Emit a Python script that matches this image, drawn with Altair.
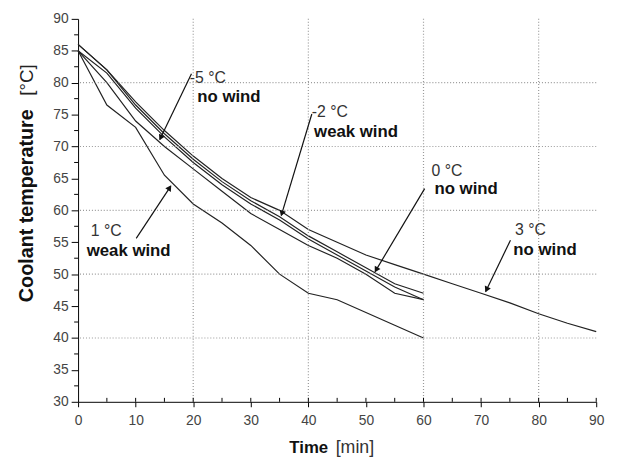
import math
import altair as alt
import pandas as pd

# ---------------- data ----------------
time_60 = [0, 5, 10, 15, 20, 25, 30, 35, 40, 45, 50, 55, 60]
time_90 = [0, 5, 10, 15, 20, 25, 30, 35, 40, 45, 50, 55, 60, 65, 70, 75, 80, 85, 90]

temp_m5_nowind = [86, 82, 76.5, 72, 68, 64.5, 61.5, 59, 56, 53.5, 51, 48.5, 47]
temp_m2_weak = [85, 81.5, 76, 71.5, 67.5, 64, 61, 58.5, 55.5, 53, 50.5, 48, 46]
temp_0_nowind = [85, 80, 74, 70, 66.5, 63, 59.5, 57, 54.5, 52.5, 50, 47, 46]
temp_1_weak = [85, 76.5, 73, 65.5, 61, 58, 54.5, 50, 47, 46, 44, 42, 40]
temp_3_nowind = [86, 82, 77, 72.5, 68.5, 65, 62, 60, 57, 55, 53, 51.5, 50,
                 48.5, 47, 45.5, 43.8, 42.3, 41]

x_ticks = [0, 10, 20, 30, 40, 50, 60, 70, 80, 90]
y_ticks = [30, 35, 40, 45, 50, 55, 60, 65, 70, 75, 80, 85, 90]
x_minor = [5, 15, 25, 35, 45, 55, 65, 75, 85]
y_minor = [32.5, 37.5, 42.5, 47.5, 52.5, 57.5, 62.5, 67.5, 72.5, 77.5, 82.5, 87.5]
x_grid = [20, 40, 60, 80]
y_grid = [40, 50, 60, 70, 80]

# annotation labels: temperature line, wind line
label_temp = ["-5 °C", "-2 °C", "0 °C", "3 °C", "1 °C"]
label_wind = ["no wind", "weak wind", "no wind", "no wind", "weak wind"]
temp_lbl_t = [19.4, 40.6, 61.4, 75.9, 2.2]
temp_lbl_T = [80.8, 75.4, 66.1, 56.9, 56.7]
wind_lbl_t = [20.7, 41.0, 61.9, 75.6, 1.5]
wind_lbl_T = [77.7, 72.3, 63.4, 53.8, 53.6]

# arrows: start (t, T) -> tip (t, T)
arrow_t0 = [19.7, 40.6, 60.2, 75.1, 10.1]
arrow_T0 = [81.4, 75.1, 63.4, 55.3, 55.6]
arrow_t1 = [14.2, 35.3, 51.6, 70.8, 16.1]
arrow_T1 = [71.1, 59.2, 50.4, 47.3, 63.8]

# ---------------- layout ----------------
W, H = 525, 388
X_DOM = [0, 90]
Y_DOM = [30, 90]
ppm = W / (X_DOM[1] - X_DOM[0])
ppd = H / (Y_DOM[1] - Y_DOM[0])

rows = []
for name, ts, vals in [("-5", time_60, temp_m5_nowind), ("-2", time_60, temp_m2_weak),
                       ("0", time_60, temp_0_nowind), ("1", time_60, temp_1_weak),
                       ("3", time_90, temp_3_nowind)]:
    for t, v in zip(ts, vals):
        rows.append({"series": name, "t": t, "T": v})
curves = pd.DataFrame(rows)

xs = alt.Scale(domain=X_DOM, nice=False, zero=False)
ys = alt.Scale(domain=Y_DOM, nice=False, zero=False)

x_axis = alt.Axis(values=x_ticks, grid=False, tickSize=5, tickColor="black",
                  domainColor="black", labelFont="Liberation Sans", labelFontSize=14,
                  labelColor="#444", labelPadding=7, title=None, format="d",
                  labelOverlap=False, labelFlush=False)
y_axis = alt.Axis(values=y_ticks, grid=False, tickSize=7, tickColor="black",
                  domainColor="black", labelFont="Liberation Sans", labelFontSize=14,
                  labelColor="#444", labelPadding=3, title=None, format="d",
                  labelOverlap=False, labelFlush=False)


def X(field):
    return alt.X(field, scale=xs, axis=x_axis)


def Y(field):
    return alt.Y(field, scale=ys, axis=y_axis)


grid_x = alt.Chart(pd.DataFrame({"gx": x_grid})).mark_rule(
    color="#999", strokeDash=[1, 2], strokeWidth=1.2).encode(x=X("gx:Q"))
grid_y = alt.Chart(pd.DataFrame({"gy": y_grid})).mark_rule(
    color="#999", strokeDash=[1, 2], strokeWidth=1.2).encode(y=Y("gy:Q"))

minor_y = alt.Chart(pd.DataFrame({"my": y_minor})).mark_rule(color="black").encode(
    y=Y("my:Q"), x=alt.value(-4), x2=alt.value(0))
minor_x = alt.Chart(pd.DataFrame({"mx": x_minor + x_ticks[1:]})).mark_rule(color="black").encode(
    x=X("mx:Q"), y=alt.value(H - 4), y2=alt.value(H))

lines = alt.Chart(curves).mark_line(color="#222", strokeWidth=1.2).encode(
    x=X("t:Q"), y=Y("T:Q"), detail="series:N", order="t:Q")

arrows = pd.DataFrame({"t0": arrow_t0, "T0": arrow_T0, "t1": arrow_t1, "T1": arrow_T1})
arrow_lines = alt.Chart(arrows).mark_rule(color="#111", strokeWidth=1.2).encode(
    x=X("t0:Q"), y=Y("T0:Q"), x2="t1:Q", y2="T1:Q")

heads = []
for t0, T0, t1, T1 in zip(arrow_t0, arrow_T0, arrow_t1, arrow_T1):
    dx = (t1 - t0) * ppm
    dy = -(T1 - T0) * ppd
    L = math.hypot(dx, dy)
    ux, uy = dx / L, dy / L
    ang = math.degrees(math.atan2(ux, -uy)) % 360
    heads.append({"t": t1 - ux * 3 / ppm, "T": T1 + uy * 3 / ppd, "ang": ang})
arrow_heads = alt.Chart(pd.DataFrame(heads)).mark_point(
    shape="triangle", filled=True, color="#111", size=45, opacity=1).encode(
    x=X("t:Q"), y=Y("T:Q"), angle=alt.Angle("ang:Q", scale=None))

txt_temp = alt.Chart(pd.DataFrame({"t": temp_lbl_t, "T": temp_lbl_T, "s": label_temp})).mark_text(
    align="left", baseline="middle", font="Liberation Sans", fontSize=16, color="#333").encode(
    x=X("t:Q"), y=Y("T:Q"), text="s:N")
txt_wind = alt.Chart(pd.DataFrame({"t": wind_lbl_t, "T": wind_lbl_T, "s": label_wind})).mark_text(
    align="left", baseline="middle", font="Liberation Sans", fontSize=17, fontWeight="bold",
    color="#111").encode(
    x=X("t:Q"), y=Y("T:Q"), text="s:N")

title_src = pd.DataFrame({"k": [0]})
y_title_a = alt.Chart(title_src).mark_text(
    text="Coolant temperature", angle=270, align="left", baseline="middle",
    font="Liberation Sans", fontSize=20, fontWeight="bold", color="#111").encode(
    x=alt.value(-52), y=alt.value(287))
y_title_b = alt.Chart(title_src).mark_text(
    text="[°C]", angle=270, align="right", baseline="middle",
    font="Liberation Sans", fontSize=19, color="#222").encode(
    x=alt.value(-52), y=alt.value(46))
x_title_a = alt.Chart(title_src).mark_text(
    text="Time", align="left", baseline="middle",
    font="Liberation Sans", fontSize=17, fontWeight="bold", color="#111").encode(
    x=alt.value(214), y=alt.value(435))
x_title_b = alt.Chart(title_src).mark_text(
    text="[min]", align="left", baseline="middle",
    font="Liberation Sans", fontSize=18, color="#333").encode(
    x=alt.value(261), y=alt.value(435))

chart = alt.layer(
    lines, grid_x, grid_y, minor_y, minor_x, arrow_lines, arrow_heads,
    txt_temp, txt_wind, y_title_a, y_title_b, x_title_a, x_title_b
).properties(
    width=W, height=H,
    autosize=alt.AutoSizeParams(type="none"),
    padding={"left": 71, "top": 8, "right": 17, "bottom": 60},
    background="white",
).configure_view(stroke=None)

chart.save("out.html", embed_options={"renderer": "svg", "actions": False})
